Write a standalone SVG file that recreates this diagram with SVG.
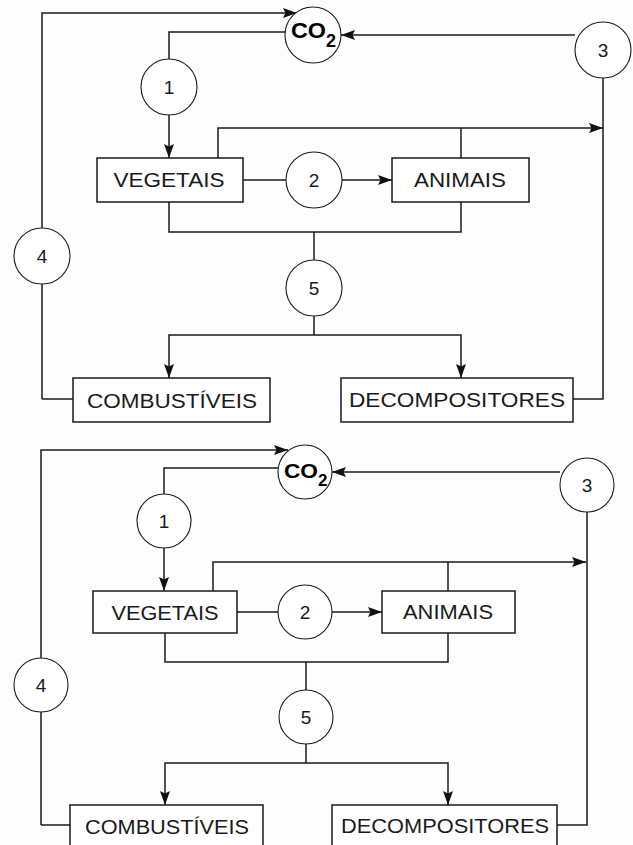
<svg xmlns="http://www.w3.org/2000/svg" width="633" height="845" viewBox="0 0 633 845">
<defs>
<marker id="ah" markerUnits="userSpaceOnUse" markerWidth="16" markerHeight="11" refX="14" refY="5" orient="auto">
<path d="M0,0 L14,5 L0,10 L2.5,5 z" fill="#111"/>
</marker>
</defs>
<style>
.ln{fill:none;stroke:#1a1a1a;stroke-width:1.5}
.arr{fill:none;stroke:#1a1a1a;stroke-width:1.5;marker-end:url(#ah)}
.box{fill:#fff;stroke:#1a1a1a;stroke-width:1.5}
.cir{fill:#fff;stroke:#1a1a1a;stroke-width:1.1}
.lbl{font-family:"Liberation Sans",Arial,sans-serif;font-size:20px;fill:#1a1a1a;text-anchor:middle}
.num{font-family:"Liberation Sans",Arial,sans-serif;font-size:19px;fill:#1a1a1a;text-anchor:middle}
.co{font-family:"Liberation Sans",Arial,sans-serif;font-weight:bold;fill:#000}
</style>
<rect width="633" height="845" fill="#fdfdfd"/>

<!-- TOP DIAGRAM -->
<g id="top">
<g id="top-connectors">
<polyline class="arr" points="42,399 42,13 297,13"/>
<line class="ln" x1="42" y1="399" x2="73" y2="399"/>
<polyline class="ln" points="285,32 169,32 169,59"/>
<line class="arr" x1="169" y1="115" x2="169" y2="158"/>
<line class="ln" x1="243" y1="180" x2="286" y2="180"/>
<line class="arr" x1="342" y1="180" x2="392" y2="180"/>
<polyline class="arr" points="218,158 218,128 603,128"/>
<line class="ln" x1="461" y1="158" x2="461" y2="128"/>
<line class="arr" x1="575" y1="35" x2="341" y2="35"/>
<polyline class="ln" points="603,78 603,399 573,399"/>
<polyline class="ln" points="169,202 169,232 461,232 461,202"/>
<line class="ln" x1="314" y1="232" x2="314" y2="260"/>
<line class="ln" x1="314" y1="316" x2="314" y2="335"/>
<polyline class="arr" points="314,335 169,335 169,378"/>
<polyline class="arr" points="314,335 461,335 461,378"/>
</g>
<g id="top-co2"><circle class="cir" cx="313" cy="35" r="28"/><text class="co" x="291" y="38" font-size="22" textLength="35" lengthAdjust="spacingAndGlyphs">CO</text><text class="co" x="326" y="47" font-size="18">2</text></g>
<g id="top-n1"><circle class="cir" cx="169" cy="87" r="28"/><text class="num" x="169" y="94">1</text></g>
<g id="top-n2"><circle class="cir" cx="314" cy="180" r="28"/><text class="num" x="314" y="187">2</text></g>
<g id="top-n3"><circle class="cir" cx="603" cy="50" r="28"/><text class="num" x="603" y="57">3</text></g>
<g id="top-n4"><circle class="cir" cx="42" cy="256" r="28"/><text class="num" x="42" y="263">4</text></g>
<g id="top-n5"><circle class="cir" cx="314" cy="288" r="28"/><text class="num" x="314" y="295">5</text></g>
<g id="top-vegetais"><rect class="box" x="97" y="158" width="146" height="44"/><text class="lbl" x="169" y="187" textLength="111" lengthAdjust="spacingAndGlyphs">VEGETAIS</text></g>
<g id="top-animais"><rect class="box" x="392" y="158" width="137" height="44"/><text class="lbl" x="460" y="187" textLength="92" lengthAdjust="spacingAndGlyphs">ANIMAIS</text></g>
<g id="top-combustiveis"><rect class="box" x="73" y="378" width="197" height="44"/><text class="lbl" x="172" y="408" textLength="170" lengthAdjust="spacingAndGlyphs">COMBUSTÍVEIS</text></g>
<g id="top-decompositores"><rect class="box" x="341" y="378" width="232" height="44"/><text class="lbl" x="457" y="407" textLength="216" lengthAdjust="spacingAndGlyphs">DECOMPOSITORES</text></g>
</g>

<!-- BOTTOM DIAGRAM -->
<g id="bottom">
<g id="bottom-connectors">
<polyline class="arr" points="41,825 41,450 288,450"/>
<line class="ln" x1="41" y1="825" x2="70" y2="825"/>
<polyline class="ln" points="278,468 164,468 164,494"/>
<line class="arr" x1="164" y1="548" x2="164" y2="591"/>
<line class="ln" x1="237" y1="612" x2="278" y2="612"/>
<line class="arr" x1="332" y1="612" x2="382" y2="612"/>
<polyline class="arr" points="213,591 213,562 586,562"/>
<line class="ln" x1="448" y1="591" x2="448" y2="562"/>
<line class="arr" x1="560" y1="472" x2="332" y2="472"/>
<polyline class="ln" points="587,512 587,825 557,825"/>
<polyline class="ln" points="165,633 165,662 448,662 448,633"/>
<line class="ln" x1="306" y1="662" x2="306" y2="690"/>
<line class="ln" x1="306" y1="744" x2="306" y2="763"/>
<polyline class="arr" points="306,763 165,763 165,805"/>
<polyline class="arr" points="306,763 448,763 448,805"/>
</g>
<g id="bottom-co2"><circle class="cir" cx="305" cy="472" r="27"/><text class="co" x="284" y="478" font-size="21" textLength="34" lengthAdjust="spacingAndGlyphs">CO</text><text class="co" x="318" y="486" font-size="17">2</text></g>
<g id="bottom-n1"><circle class="cir" cx="164" cy="521" r="27"/><text class="num" x="164" y="528">1</text></g>
<g id="bottom-n2"><circle class="cir" cx="305" cy="612" r="27"/><text class="num" x="305" y="619">2</text></g>
<g id="bottom-n3"><circle class="cir" cx="587" cy="485" r="27"/><text class="num" x="587" y="492">3</text></g>
<g id="bottom-n4"><circle class="cir" cx="41" cy="685" r="27"/><text class="num" x="41" y="692">4</text></g>
<g id="bottom-n5"><circle class="cir" cx="306" cy="717" r="27"/><text class="num" x="306" y="724">5</text></g>
<g id="bottom-vegetais"><rect class="box" x="93" y="591" width="144" height="42"/><text class="lbl" x="165" y="620" textLength="107" lengthAdjust="spacingAndGlyphs">VEGETAIS</text></g>
<g id="bottom-animais"><rect class="box" x="382" y="591" width="133" height="42"/><text class="lbl" x="448" y="619" textLength="90" lengthAdjust="spacingAndGlyphs">ANIMAIS</text></g>
<g id="bottom-combustiveis"><rect class="box" x="70" y="805" width="193" height="50"/><text class="lbl" x="167" y="834" textLength="164" lengthAdjust="spacingAndGlyphs">COMBUSTÍVEIS</text></g>
<g id="bottom-decompositores"><rect class="box" x="332" y="805" width="225" height="50"/><text class="lbl" x="445" y="833" textLength="208" lengthAdjust="spacingAndGlyphs">DECOMPOSITORES</text></g>
</g>
</svg>
